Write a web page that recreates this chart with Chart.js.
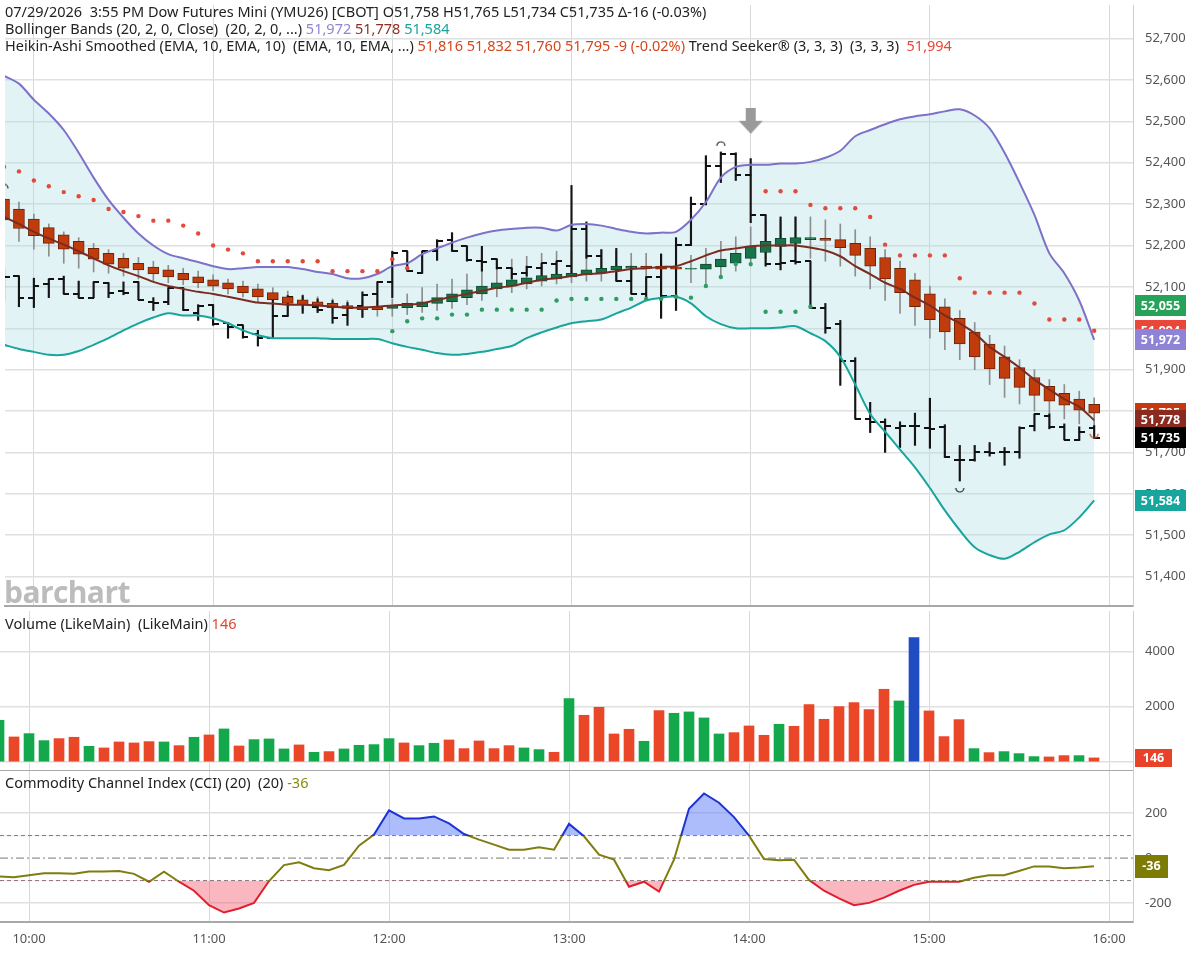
<!DOCTYPE html>
<html>
<head>
<meta charset="utf-8">
<script src="https://cdn.jsdelivr.net/npm/chart.js@4.4.1/dist/chart.umd.min.js"></script>
<style>
  html, body { margin: 0; padding: 0; background: #fff; }
  body { width: 1188px; height: 953px; position: relative; overflow: hidden; font-family: "Noto Sans", "Open Sans", sans-serif; }
  canvas { position: absolute; left: 0; }
  .txt { position: absolute; left: 5px; font-size: 14.5px; line-height: 17px; color: #222; white-space: pre; z-index: 2; }
  #mark { position: absolute; left: 4px; top: 571px; font: 700 30px "Open Sans", sans-serif; color: #bcbcbc; letter-spacing: -0.6px; z-index: 2; }
</style>
</head>
<body>
<canvas id="price" width="1188" height="611" style="top:0px"></canvas>
<canvas id="vol" width="1188" height="160" style="top:611px"></canvas>
<canvas id="cci" width="1188" height="182" style="top:771px"></canvas>
<div class="txt" id="h1" style="top:3px"></div>
<div class="txt" id="h2" style="top:20px"></div>
<div class="txt" id="h3" style="top:37px"></div>
<div class="txt" id="h4" style="top:615px"></div>
<div class="txt" id="h5" style="top:774px"></div>
<div id="mark">barchart</div>
<script>
// 5 minute bars, Dow Futures Mini (YMU26)
const barTimes = ['09:50','09:55',
  '10:00','10:05','10:10','10:15','10:20','10:25','10:30','10:35','10:40','10:45','10:50','10:55',
  '11:00','11:05','11:10','11:15','11:20','11:25','11:30','11:35','11:40','11:45','11:50','11:55',
  '12:00','12:05','12:10','12:15','12:20','12:25','12:30','12:35','12:40','12:45','12:50','12:55',
  '13:00','13:05','13:10','13:15','13:20','13:25','13:30','13:35','13:40','13:45','13:50','13:55',
  '14:00','14:05','14:10','14:15','14:20','14:25','14:30','14:35','14:40','14:45','14:50','14:55',
  '15:00','15:05','15:10','15:15','15:20','15:25','15:30','15:35','15:40','15:45','15:50','15:55'];
const timeLabels = ['10:00','11:00','12:00','13:00','14:00','15:00','16:00'];
const priceTicks = [51400,51500,51600,51700,51800,51900,52000,52100,52200,52300,52400,52500,52600,52700];
const volumeTicks = [0, 2000, 4000];
const cciTicks = [-200, 0, 200];
const cciBands = [100, -100];

// price bars
const open  = [52090,52126,52074,52107,52119,52083,52074,52110,52090,52112,52064,52064,52098,52038,52057,52012,52007,51986,51976,52029,
               52062,52052,52052,52031,52055,52083,52112,52186,52133,52186,52214,52198,52162,52167,52145,52133,52145,52155,52150,52240,
               52174,52143,52114,52083,52124,52079,52200,52300,52393,52421,52371,52274,52155,52162,52162,52048,52010,51921,51781,51774,
               51760,51764,51760,51762,51681,51681,51702,51700,51702,51764,51788,51762,51731,51758];
const high  = [52143,52126,52121,52119,52126,52114,52112,52110,52112,52112,52074,52098,52098,52057,52057,52014,52007,51995,52069,52079,
               52079,52071,52067,52062,52088,52112,52186,52186,52186,52214,52231,52198,52198,52167,52145,52150,52157,52162,52345,52257,
               52190,52193,52150,52124,52179,52219,52317,52417,52426,52424,52410,52274,52269,52269,52162,52060,52019,51929,51821,51781,
               51774,51795,51831,51767,51717,51717,51724,51712,51762,51793,51793,51769,51762,51765];
const low   = [52067,52052,52050,52074,52083,52074,52074,52074,52081,52069,52043,52057,52043,52019,52007,51976,51976,51957,51976,52029,
               52036,52038,52012,52007,52026,52048,52074,52138,52133,52164,52186,52162,52138,52143,52119,52126,52126,52126,52133,52169,
               52143,52114,52083,52074,52024,52043,52200,52298,52352,52357,52255,52150,52141,52155,52048,51988,51862,51781,51748,51700,
               51712,51717,51710,51688,51631,51679,51691,51669,51686,51752,51757,51731,51729,51734];
const close = [52124,52074,52102,52119,52083,52074,52112,52086,52086,52069,52062,52098,52043,52055,52010,52002,51979,51976,52029,52076,
               52060,52043,52024,52050,52081,52112,52181,52138,52186,52212,52186,52164,52160,52145,52131,52148,52157,52162,52240,52174,
               52143,52114,52083,52124,52079,52200,52300,52393,52421,52371,52274,52155,52157,52160,52050,52000,51921,51781,51774,51764,
               51764,51764,51757,51688,51681,51700,51698,51700,51760,51793,51762,51731,51750,51735];

// Heikin-Ashi smoothed
const haOpen  = [52312,52288,52264,52243,52226,52210,52193,52181,52169,52157,52148,52141,52133,52124,52117,52110,52102,52095,52086,52076,
                 52069,52064,52060,52055,52052,52052,52048,52050,52052,52060,52064,52074,52083,52095,52102,52107,52114,52119,52124,52129,
                 52133,52141,52145,52150,52150,52148,52143,52143,52148,52157,52169,52183,52198,52205,52214,52217,52214,52205,52193,52171,
                 52145,52117,52083,52052,52024,51991,51962,51931,51905,51881,51860,51843,51829,51816];
const haHigh  = [52329,52305,52276,52252,52233,52219,52205,52190,52181,52171,52162,52152,52145,52138,52129,52119,52114,52107,52098,52090,
                 52081,52076,52071,52067,52067,52067,52071,52083,52098,52107,52119,52131,52143,52157,52167,52174,52181,52186,52186,52190,
                 52190,52186,52181,52181,52181,52176,52176,52193,52210,52221,52245,52262,52262,52269,52269,52262,52252,52238,52221,52190,
                 52162,52133,52102,52071,52043,52014,51983,51957,51924,51900,51876,51864,51848,51832];
const haLow   = [52221,52210,52191,52174,52157,52145,52136,52133,52126,52119,52114,52110,52105,52098,52091,52083,52076,52062,52057,52052,
                 52043,52038,52036,52033,52029,52029,52029,52033,52038,52043,52048,52057,52067,52076,52086,52095,52102,52107,52110,52114,
                 52114,52114,52119,52124,52119,52114,52110,52107,52124,52138,52150,52167,52174,52186,52169,52162,52150,52126,52095,52067,
                 52036,52007,51976,51948,51924,51900,51864,51833,51817,51800,51793,51781,51769,51760];
const haClose = [52262,52241,52224,52205,52191,52179,52167,52155,52145,52141,52131,52124,52117,52110,52102,52095,52086,52076,52069,52060,
                 52057,52055,52050,52048,52045,52045,52055,52060,52064,52074,52083,52093,52102,52110,52117,52122,52127,52131,52133,52141,
                 52145,52150,52150,52145,52143,52143,52145,52155,52167,52181,52198,52210,52217,52219,52219,52212,52195,52176,52150,52119,
                 52086,52052,52021,51991,51962,51931,51902,51879,51857,51838,51824,51814,51802,51795];

// Bollinger Bands (20, 2)
const bbUpper  = [52610,52591,52552,52519,52479,52424,52364,52310,52267,52229,52200,52179,52169,52160,52150,52143,52145,52148,52148,52148,
                  52143,52136,52131,52121,52121,52131,52150,52157,52179,52193,52207,52219,52229,52236,52240,52243,52243,52236,52250,52252,
                  52248,52240,52233,52229,52231,52233,52262,52305,52364,52390,52395,52395,52398,52398,52402,52412,52429,52464,52479,52493,
                  52505,52512,52517,52524,52529,52514,52483,52424,52352,52274,52181,52133,52067,51972];
const bbMiddle = [52269,52252,52233,52217,52202,52186,52169,52152,52138,52126,52112,52102,52095,52088,52083,52076,52069,52062,52060,52057,
                  52057,52055,52052,52050,52050,52052,52055,52057,52060,52069,52076,52083,52090,52098,52102,52110,52117,52121,52126,52131,
                  52133,52138,52143,52145,52148,52150,52162,52176,52188,52193,52198,52200,52200,52200,52195,52188,52174,52150,52131,52110,
                  52095,52074,52055,52031,52012,51988,51955,51931,51905,51876,51852,51829,51810,51778];
const bbLower  = [51960,51950,51943,51936,51936,51945,51960,51976,51995,52012,52026,52036,52031,52031,52024,52012,51995,51983,51976,51976,
                  51976,51976,51974,51974,51974,51974,51964,51955,51948,51940,51936,51938,51943,51950,51957,51976,51990,52002,52012,52017,
                  52021,52036,52050,52067,52074,52076,52060,52029,52010,52000,52000,52000,52002,52005,51988,51969,51931,51864,51793,51750,
                  51707,51664,51614,51560,51512,51471,51452,51443,51460,51483,51502,51512,51543,51584];

// Trend Seeker dots (null = no dot)
const tsRed = [52390,52379,52357,52343,52329,52319,52310,52288,52281,52271,52260,52260,52248,52229,52200,52190,52181,52162,52162,52162,
               52162,52162,52138,52138,52138,52138,52167,52145,null,null,null,null,null,null,null,null,null,null,null,null,
               null,null,null,null,null,null,null,null,null,null,null,52331,52331,52331,52298,52290,52290,52290,52269,52202,
               52176,52176,52176,52176,52121,52086,52086,52086,52086,52060,52021,52021,52021,51994];
const tsGreen = [null,null,null,null,null,null,null,null,null,null,null,null,null,null,null,null,null,null,null,null,
                 null,null,null,null,null,null,51993,52017,52024,52024,52033,52033,52045,52045,52045,52045,52045,52067,52071,52071,
                 52071,52071,52071,52071,52071,52076,52074,52102,52124,52155,52155,52040,52040,52040,52052,null,null,null,null,null,
                 null,null,null,null,null,null,null,null,null,null,null,null,null,null];
const trendSupport = 52055;

// swing markers and signal arrow
const swingHighTimes = ['09:50', '13:50'];
const swingHighPrices = [52333, 52436];
const swingLowTimes = ['15:10'];
const swingLowPrices = [51619];
const haSwingTimes = ['15:55'];
const haSwingPrices = [51750];
const signalTimes = ['14:00'];
const signalPrices = [52500];

// Volume
const volume = [1506,904,1024,771,843,892,566,506,723,687,735,723,590,892,976,1193,578,807,831,470,
                615,349,374,470,602,627,843,687,590,675,795,482,759,482,590,506,446,349,2290,1687,
                1976,1012,1181,747,1856,1759,1808,1591,1012,1060,1301,964,1362,1289,2073,1542,2000,2145,1892,2627,
                2205,4495,1844,916,1530,482,337,374,301,193,181,229,229,146];
const volumeSide = ['g','r','g','g','r','r','g','r','r','r','r','g','r','g','r','g','r','g','g','g',
                    'r','g','r','g','g','g','g','r','g','g','r','r','r','r','r','g','g','r','g','r',
                    'r','r','r','g','r','g','g','g','g','r','r','r','g','r','r','r','r','r','r','r',
                    'g','b','r','r','r','g','r','g','g','g','r','r','g','r'];

// CCI (20)
const cci = [-82,-85,-76,-67,-67,-70,-60,-60,-57,-70,-105,-60,-105,-145,-209,-242,-224,-199,-102,-31,
             -19,-45,-54,-30,55,105,212,176,176,185,154,107,82,60,37,37,48,37,152,97,
             15,-7,-127,-105,-149,-7,219,287,246,182,100,-4,-10,-7,-97,-145,-179,-209,-199,-176,
             -145,-119,-105,-105,-105,-87,-76,-76,-57,-37,-37,-45,-42,-36];

const toMin = s => { const p = s.split(':'); return Number(p[0]) * 60 + Number(p[1]); };
const fmt = v => Number(v).toLocaleString('en-US');
const xs = barTimes.map(toMin);
const hourTicks = timeLabels.map(toMin);
const X_MIN = 590.33, X_MAX = 968;
const AXIS_W = 55;

const pts = arr => xs.map((x, i) => ({ x: x, y: arr[i] })).filter(p => p.y !== null);
const rng = (a, b) => xs.map((x, i) => ({ x: x, y: [a[i], b[i]] }));
const mk = (t, p) => t.map((s, i) => ({ x: toMin(s), y: p[i] }));

Chart.defaults.font.family = '"Noto Sans", "Open Sans", sans-serif';
Chart.defaults.font.size = 13;
Chart.defaults.color = '#555';

// small images used as point styles
function img(w, h, draw) {
  const c = document.createElement('canvas');
  c.width = w; c.height = h;
  draw(c.getContext('2d'));
  return c;
}
const openTick = img(11, 2, g => { g.fillStyle = '#111'; g.fillRect(0, 0, 6, 2); });
const closeTick = img(11, 2, g => { g.fillStyle = '#111'; g.fillRect(5, 0, 6, 2); });
const arcUp = img(12, 14, g => { g.strokeStyle = '#222'; g.lineWidth = 1.2; g.beginPath(); g.arc(6, 5, 4, Math.PI, 2 * Math.PI); g.stroke(); });
const arcDown = img(12, 14, g => { g.strokeStyle = '#222'; g.lineWidth = 1.2; g.beginPath(); g.arc(6, 9, 4, 0, Math.PI); g.stroke(); });
const arcDownHa = img(12, 14, g => { g.strokeStyle = '#c9461a'; g.lineWidth = 1.2; g.beginPath(); g.arc(6, 9, 4, 0, Math.PI); g.stroke(); });
const arrow = img(26, 27, g => {
  g.fillStyle = '#9a9a9a';
  g.fillRect(8, 0, 10, 14);
  g.beginPath(); g.moveTo(1, 13); g.lineTo(25, 13); g.lineTo(13, 26); g.closePath(); g.fill();
});

// value boxes on the right axis
const tagPlugin = {
  id: 'tags',
  afterDraw(chart, args, opts) {
    const ctx = chart.ctx, ys = chart.scales.y, x0 = chart.chartArea.right + 2;
    (opts.items || []).forEach(t => {
      const py = ys.getPixelForValue(t.value), w = t.w || 51, h = t.h || 21;
      ctx.save();
      ctx.fillStyle = t.color;
      ctx.fillRect(x0, Math.round(py - h / 2), w, h);
      ctx.fillStyle = '#fff';
      ctx.font = 'bold 12.5px "Noto Sans", sans-serif';
      ctx.textAlign = 'center';
      ctx.textBaseline = 'middle';
      ctx.fillText(t.text, x0 + w / 2, py + 0.5);
      ctx.restore();
    });
  }
};

function xAxis(showLabels) {
  return {
    type: 'linear', min: X_MIN, max: X_MAX, offset: false,
    afterBuildTicks: s => { s.ticks = hourTicks.map(v => ({ value: v })); },
    ticks: { display: showLabels, padding: 9, color: '#555', maxRotation: 0, autoSkip: false,
             callback: (v, i) => timeLabels[i] },
    grid: { color: '#d8d8d8', lineWidth: 1, drawTicks: false, offset: false },
    border: { display: true, color: '#a8a8a8', width: 2 },
    afterFit: s => {
      s.height = showLabels ? 31 : 0;
      s.paddingLeft = 0; s.paddingRight = 0;
    }
  };
}
function yAxis(min, max, tickValues, label, gridColor) {
  return {
    position: 'right', min: min, max: max,
    afterBuildTicks: s => { s.ticks = tickValues.map(v => ({ value: v })); },
    ticks: { padding: 12, color: '#555', autoSkip: false, callback: label },
    grid: { color: gridColor || '#e0e0e0', lineWidth: 1.5, drawTicks: false },
    border: { display: true, color: '#cfcfcf', width: 1 },
    afterFit: s => { s.width = AXIS_W; s.paddingTop = 0; s.paddingBottom = 0; }
  };
}
const baseOptions = {
  responsive: false,
  animation: false,
  events: [],
  layout: { padding: 0 },
};

// price panel
const haUp = haOpen.map((o, i) => haClose[i] >= o);
new Chart(document.getElementById('price'), {
  type: 'line',
  data: {
    datasets: [
      { data: pts(bbUpper), borderColor: '#7c72c8', borderWidth: 2, pointRadius: 0, tension: 0.3,
        fill: 2, backgroundColor: 'rgba(176,223,231,0.36)', order: 5 },
      { data: pts(bbMiddle), borderColor: '#7b2b20', borderWidth: 2, pointRadius: 0, tension: 0.3, fill: false, order: 4 },
      { data: pts(bbLower), borderColor: '#17a59c', borderWidth: 2, pointRadius: 0, tension: 0.3, fill: false, order: 5 },
      { type: 'bar', data: rng(haLow, haHigh), backgroundColor: '#8e8e8e', barThickness: 1, grouped: false, order: 9 },
      { type: 'bar', data: rng(low, high), backgroundColor: '#151515', barThickness: 1.5, grouped: false, order: 8 },
      { data: pts(open), showLine: false, pointStyle: openTick, pointRadius: 3, order: 7 },
      { data: pts(close), showLine: false, pointStyle: closeTick, pointRadius: 3, order: 7 },
      { type: 'bar', data: rng(haOpen, haClose), grouped: false, barThickness: 11, borderWidth: 1, borderSkipped: false,
        backgroundColor: haUp.map(u => u ? '#17744a' : '#c13c0c'),
        borderColor: haUp.map(u => u ? '#0d4a2d' : '#6e2206'), order: 6 },
      { data: pts(tsRed), showLine: false, pointRadius: 2.2, pointBorderWidth: 0,
        pointBackgroundColor: '#e34a3b', order: 3 },
      { data: pts(tsGreen), showLine: false, pointRadius: 2.2, pointBorderWidth: 0,
        pointBackgroundColor: '#2e9d63', order: 3 },
      { data: mk(swingHighTimes, swingHighPrices), showLine: false, pointStyle: arcUp, pointRadius: 3, order: 2 },
      { data: mk(swingLowTimes, swingLowPrices), showLine: false, pointStyle: arcDown, pointRadius: 3, order: 2 },
      { data: mk(haSwingTimes, haSwingPrices), showLine: false, pointStyle: arcDownHa, pointRadius: 3, order: 2 },
      { data: mk(signalTimes, signalPrices), showLine: false, pointStyle: arrow, pointRadius: 3, order: 2 }
    ]
  },
  options: Object.assign({}, baseOptions, {
    scales: { x: xAxis(false), y: yAxis(51329, 52781, priceTicks, v => fmt(v)) },
    plugins: {
      legend: { display: false }, tooltip: { enabled: false },
      filler: { drawTime: 'beforeDatasetsDraw' },
      tags: { items: [
        { value: trendSupport, text: fmt(trendSupport), color: '#26a259' },
        { value: tsRed[tsRed.length - 1], text: fmt(tsRed[tsRed.length - 1]), color: '#e8473a' },
        { value: bbUpper[bbUpper.length - 1], text: fmt(bbUpper[bbUpper.length - 1]), color: '#8e83d6' },
        { value: haClose[haClose.length - 1], text: fmt(haClose[haClose.length - 1]), color: '#c4390d' },
        { value: bbMiddle[bbMiddle.length - 1], text: fmt(bbMiddle[bbMiddle.length - 1]), color: '#8b2a1f' },
        { value: close[close.length - 1], text: fmt(close[close.length - 1]), color: '#000' },
        { value: bbLower[bbLower.length - 1], text: fmt(bbLower[bbLower.length - 1]), color: '#18a59d' }
      ] }
    }
  }),
  plugins: [tagPlugin]
});

// volume panel
const volColors = { g: '#14a84c', r: '#ea4628', b: '#1f4cc0' };
new Chart(document.getElementById('vol'), {
  type: 'bar',
  data: {
    datasets: [
      { data: pts(volume), backgroundColor: volumeSide.map(s => volColors[s]), barThickness: 10, grouped: false }
    ]
  },
  options: Object.assign({}, baseOptions, {
    scales: { x: xAxis(false), y: yAxis(-327, 5455, volumeTicks, v => String(v)) },
    plugins: {
      legend: { display: false }, tooltip: { enabled: false },
      tags: { items: [ { value: volume[volume.length - 1], text: String(volume[volume.length - 1]), color: '#e8432a', w: 37, h: 18 } ] }
    }
  }),
  plugins: [tagPlugin]
});

// CCI panel
const CCI_BLUE = '#1d33d6', CCI_OLIVE = '#7f7d10', CCI_RED = '#e01e2e';
function cciColor(ctx) {
  const ch = ctx.chart, area = ch.chartArea;
  if (!area) return CCI_OLIVE;
  const ys = ch.scales.y, h = area.bottom - area.top;
  const f1 = Math.min(1, Math.max(0, (ys.getPixelForValue(cciBands[0]) - area.top) / h));
  const f2 = Math.min(1, Math.max(0, (ys.getPixelForValue(cciBands[1]) - area.top) / h));
  const g = ch.ctx.createLinearGradient(0, area.top, 0, area.bottom);
  g.addColorStop(0, CCI_BLUE); g.addColorStop(f1, CCI_BLUE);
  g.addColorStop(f1, CCI_OLIVE); g.addColorStop(f2, CCI_OLIVE);
  g.addColorStop(f2, CCI_RED); g.addColorStop(1, CCI_RED);
  return g;
}
const level = v => [{ x: X_MIN, y: v }, { x: X_MAX, y: v }];
new Chart(document.getElementById('cci'), {
  type: 'line',
  data: {
    datasets: [
      { data: pts(cci), borderColor: cciColor, borderWidth: 2, pointRadius: 0, tension: 0,
        fill: { target: { value: cciBands[0] }, above: 'rgba(92,122,246,0.5)', below: 'rgba(0,0,0,0)' }, order: 1 },
      { data: pts(cci), borderWidth: 0, borderColor: 'rgba(0,0,0,0)', pointRadius: 0, tension: 0,
        fill: { target: { value: cciBands[1] }, above: 'rgba(0,0,0,0)', below: 'rgba(246,96,116,0.45)' }, order: 2 },
      { data: level(cciBands[0]), borderColor: '#777', borderWidth: 1, borderDash: [4, 3], pointRadius: 0, order: 3 },
      { data: level(cciBands[1]), borderColor: '#777', borderWidth: 1, borderDash: [4, 3], pointRadius: 0, order: 3 },
      { data: level(0), borderColor: '#777', borderWidth: 1, borderDash: [8, 3, 2, 3], pointRadius: 0, order: 3 }
    ]
  },
  options: Object.assign({}, baseOptions, {
    scales: {
      x: xAxis(true),
      y: yAxis(-284, 387, cciTicks, v => String(v), c => (c.tick && c.tick.value === 0) ? 'rgba(0,0,0,0)' : '#e0e0e0')
    },
    plugins: {
      legend: { display: false }, tooltip: { enabled: false },
      tags: { items: [ { value: cci[cci.length - 1], text: String(cci[cci.length - 1]), color: '#7e7b05', w: 33, h: 23 } ] }
    }
  }),
  plugins: [tagPlugin]
});

// header legends
const last = a => a[a.length - 1];
const span = (c, t) => '<span style="color:' + c + '">' + t + '</span>';
document.getElementById('h1').innerHTML = '07/29/2026&nbsp; 3:55 PM Dow Futures Mini (YMU26) [CBOT] O' + fmt(last(open)) +
  ' H' + fmt(last(high)) + ' L' + fmt(last(low)) + ' C' + fmt(last(close)) + ' \u0394-16 (-0.03%)';
document.getElementById('h2').innerHTML = 'Bollinger Bands (20, 2, 0, Close)&nbsp; (20, 2, 0, ...) ' +
  span('#8e85d2', fmt(last(bbUpper))) + ' ' + span('#8e2c22', fmt(last(bbMiddle))) + ' ' + span('#1aa39c', fmt(last(bbLower)));
document.getElementById('h3').innerHTML = 'Heikin-Ashi Smoothed (EMA, 10, EMA, 10)&nbsp; (EMA, 10, EMA, ...) ' +
  span('#d2471c', fmt(last(haOpen)) + ' ' + fmt(last(haHigh)) + ' ' + fmt(last(haLow)) + ' ' + fmt(last(haClose)) + ' -9 (-0.02%)') +
  ' Trend Seeker\u00ae (3, 3, 3)&nbsp; (3, 3, 3)&nbsp; ' + span('#e8473a', fmt(last(tsRed)));
document.getElementById('h4').innerHTML = 'Volume (LikeMain)&nbsp; (LikeMain) ' + span('#e0472a', String(last(volume)));
document.getElementById('h5').innerHTML = 'Commodity Channel Index (CCI) (20)&nbsp; (20) ' + span('#8a8a12', String(last(cci)));
</script>
</body>
</html>
